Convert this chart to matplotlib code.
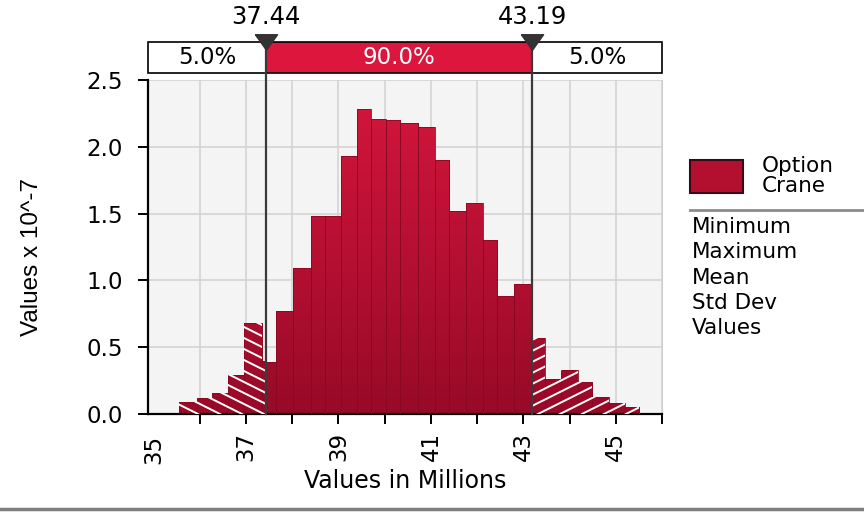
import numpy as np
import matplotlib
matplotlib.use("Agg")
import matplotlib.pyplot as plt
import matplotlib.transforms as mtransforms
from matplotlib.collections import LineCollection
from matplotlib.colors import LinearSegmentedColormap
from matplotlib.patches import Rectangle
from matplotlib.lines import Line2D

# histogram: values in millions, density x 10^-7
bin_edges = [35.56, 35.93, 36.27, 36.62, 36.96, 37.35, 37.44, 37.64, 38.02, 38.40,
             38.72, 39.05, 39.41, 39.70, 40.02, 40.34, 40.73, 41.09, 41.40, 41.77,
             42.13, 42.44, 42.80, 43.19, 43.46, 43.82, 44.18, 44.49, 44.85, 45.19,
             45.51]
densities = [0.09, 0.12, 0.155, 0.29, 0.68, 0.40, 0.39, 0.77, 1.09, 1.48,
             1.48, 1.93, 2.28, 2.21, 2.20, 2.18, 2.15, 1.90, 1.52, 1.58,
             1.30, 0.88, 0.97, 0.57, 0.26, 0.33, 0.24, 0.13, 0.08, 0.05]

# delimiters and the share of each region
lo_value, hi_value = 37.44, 43.19
region_labels = ["5.0%", "90.0%", "5.0%"]

x_ticks = list(range(36, 47))
x_tick_labels = ["", "37", "", "39", "", "41", "", "43", "", "45", ""]
y_ticks = [0.0, 0.5, 1.0, 1.5, 2.0, 2.5]

legend_name = "Option\nCrane"
stat_names = ["Minimum", "Maximum", "Mean", "Std Dev", "Values"]

plt.rcParams["font.family"] = ["DejaVu Sans"]

fig = plt.figure(figsize=(8.64, 5.12), dpi=100)
ax = fig.add_axes([148 / 864, 98 / 512, 514 / 864, 334 / 512])
ax.set_facecolor("#F4F4F4")

x_min, x_max = 34.88, 46.0
ax.set_xlim(x_min, x_max)
ax.set_ylim(0, 2.5)

bar_cmap = LinearSegmentedColormap.from_list("bars", ["#980A28", "#D6163D"])
gradient = np.linspace(0, 1, 256).reshape(-1, 1)

# pixel size of the axes, used to give the hatch stripes their slope
ax_w_px, ax_h_px = 514.0, 334.0
stripe_gap = 11.0 / ax_h_px

for i, h in enumerate(densities):
    x0, x1 = bin_edges[i], bin_edges[i + 1]
    rect = Rectangle((x0, 0), x1 - x0, h, facecolor="none",
                     edgecolor="#8A0922", linewidth=0.6, zorder=3)
    ax.add_patch(rect)
    im = ax.imshow(gradient, cmap=bar_cmap, origin="lower", aspect="auto",
                   extent=(x0, x1, 0, 2.5), zorder=2, interpolation="bilinear")
    im.set_clip_path(rect)

    mid = (x0 + x1) / 2
    if lo_value < mid < hi_value:
        continue
    slope = (-0.5 if mid < lo_value else 0.5) * ax_w_px / ax_h_px
    offsets = np.arange(-2.0, 2.0, stripe_gap)
    segs = [[(0, c), (1, c + slope)] for c in offsets]
    lc = LineCollection(segs, colors="white", linewidths=1.4,
                        transform=ax.transAxes, zorder=4)
    ax.add_collection(lc)
    lc.set_clip_path(rect)

ax.set_xlim(x_min, x_max)
ax.set_ylim(0, 2.5)

tick_size = 16.5
ax.set_xticks(x_ticks)
ax.set_xticklabels(x_tick_labels, rotation=90, fontsize=tick_size)
ax.set_yticks(y_ticks)
ax.set_yticklabels([f"{v:.1f}" for v in y_ticks], fontsize=tick_size)
ax.tick_params(axis="both", direction="out", length=7, width=1.4, color="black")
ax.tick_params(axis="y", pad=11)
ax.tick_params(axis="x", pad=6)
ax.grid(True, color="#D4D4D4", linewidth=1.2, zorder=0)
ax.set_axisbelow(True)

trans = mtransforms.blended_transform_factory(ax.transData, ax.transAxes)

# "35" sits on the left border, where there is no tick
ax.text(35.0, -0.062, "35", rotation=90, fontsize=tick_size, ha="center", va="top",
        transform=trans)

ax.spines["top"].set_visible(False)
ax.spines["right"].set_color("#D0D0D0")
ax.spines["left"].set_linewidth(1.6)
ax.spines["bottom"].set_linewidth(1.6)

ax.set_xlabel("Values in Millions", fontsize=17)
ax.xaxis.set_label_coords(0.5, -0.165)
ax.set_ylabel("Values x 10^-7", fontsize=17.5, family=["Liberation Sans", "DejaVu Sans"])
ax.yaxis.set_label_coords(-0.205, 0.47)

# delimiter bar above the plot
box_y, box_h = 1.021, 0.093
segments = [(x_min, lo_value, "white", "black"),
            (lo_value, hi_value, "#DC163C", "white"),
            (hi_value, x_max, "white", "black")]
for (a, b, fc, tc), label in zip(segments, region_labels):
    ax.add_patch(Rectangle((a, box_y), b - a, box_h, transform=trans, clip_on=False,
                           facecolor=fc, edgecolor="black", linewidth=1.2, zorder=5))
    ax.text((a + b) / 2, box_y + box_h / 2, label, transform=trans, ha="center",
            va="center", fontsize=16.5, color=tc, zorder=6)

tri = [(-1, 0.7), (1, 0.7), (0, -0.7), (-1, 0.7)]
for v in [lo_value, hi_value]:
    ax.axvline(v, ymin=0, ymax=1.11, color="#3A3A3A", linewidth=1.6, zorder=6,
               clip_on=False)
    ax.plot([v], [1.114], marker=tri, markersize=16, color="#333333",
            transform=trans, clip_on=False, zorder=7)
    ax.text(v, 1.19, f"{v:.2f}", transform=trans, ha="center", va="center",
            fontsize=17.5, zorder=7)

# legend on the right
fig.patches.append(Rectangle((690 / 864, 1 - 193 / 512), 53 / 864, 33 / 512,
                             transform=fig.transFigure, facecolor="#B3102F",
                             edgecolor="#3A0A14", linewidth=1.5))
fig.text(762 / 864, 1 - 176 / 512, legend_name, fontsize=15.5, va="center",
         ha="left", linespacing=1.0)
fig.lines.append(Line2D([690 / 864, 1.0], [1 - 210 / 512] * 2, transform=fig.transFigure,
                        color="#8C8C8C", linewidth=2))
for k, name in enumerate(stat_names):
    fig.text(692 / 864, 1 - (227 + 25.3 * k) / 512, name, fontsize=15.5,
             va="center", ha="left")

fig.lines.append(Line2D([0, 1], [3 / 512] * 2, transform=fig.transFigure,
                        color="#7F7F7F", linewidth=2.5))

fig.savefig("out.png", dpi=100)
